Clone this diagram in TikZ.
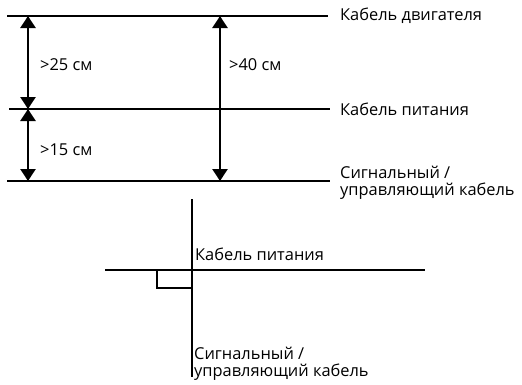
\documentclass[tikz,border=0pt]{standalone}
\usepackage{fontspec}
\setmainfont{Open Sans}
\usetikzlibrary{arrows.meta}
\tikzset{
	cable/.style={line width=2.2pt},
	gap/.style={line width=2.6pt,{Triangle[width=15pt,length=12pt]}-{Triangle[width=15pt,length=12pt]}},
	lbl/.style={anchor=west,inner sep=0pt,align=left,font=\fontsize{16.4}{17.5}\selectfont}
}
\begin{document}
\begin{tikzpicture}[x=1pt,y=-1pt]
	\useasboundingbox (0,0) rectangle (522,384);
	% parallel cables
	\coordinate (motL) at (7,16);
	\coordinate (motR) at (328,16);
	\coordinate (powL) at (9,109);
	\coordinate (powR) at (330,109);
	\coordinate (sigL) at (7,181);
	\coordinate (sigR) at (330,181);
	\draw[cable] (motL) -- (motR);
	\draw[cable] (powL) -- (powR);
	\draw[cable] (sigL) -- (sigR);
	\node[lbl] (motText) at (340,16) {Кабель двигателя};
	\node[lbl] (powText) at (340,109) {Кабель питания};
	\node[lbl] (sigText) at (340,183) {Сигнальный /\\управляющий кабель};
	% distances
	\coordinate (a1) at (28,16);
	\coordinate (a2) at (28,109);
	\coordinate (a3) at (28,181);
	\coordinate (b1) at (220,16);
	\coordinate (b2) at (220,181);
	\draw[gap] (a1) -- (a2);
	\draw[gap] (a2) -- (a3);
	\draw[gap] (b1) -- (b2);
	\node[lbl] (d25) at (40,65) {>25 см};
	\node[lbl] (d15) at (40,150) {>15 см};
	\node[lbl] (d40) at (229,65) {>40 см};
	% crossing at right angle
	\coordinate (vTop) at (192,199);
	\coordinate (vBot) at (192,377);
	\coordinate (hL) at (105,270);
	\coordinate (hR) at (425,270);
	\draw[cable] (hL) -- (hR);
	\draw[line width=1.8pt] (vTop) -- (vBot);
	\draw[line width=1.1pt] (157,270) |- (192,288);
	\node[lbl] (powText2) at (195,254) {Кабель питания};
	\node[lbl] (sigText2) at (194,364) {Сигнальный /\\управляющий кабель};
\end{tikzpicture}
\end{document}
